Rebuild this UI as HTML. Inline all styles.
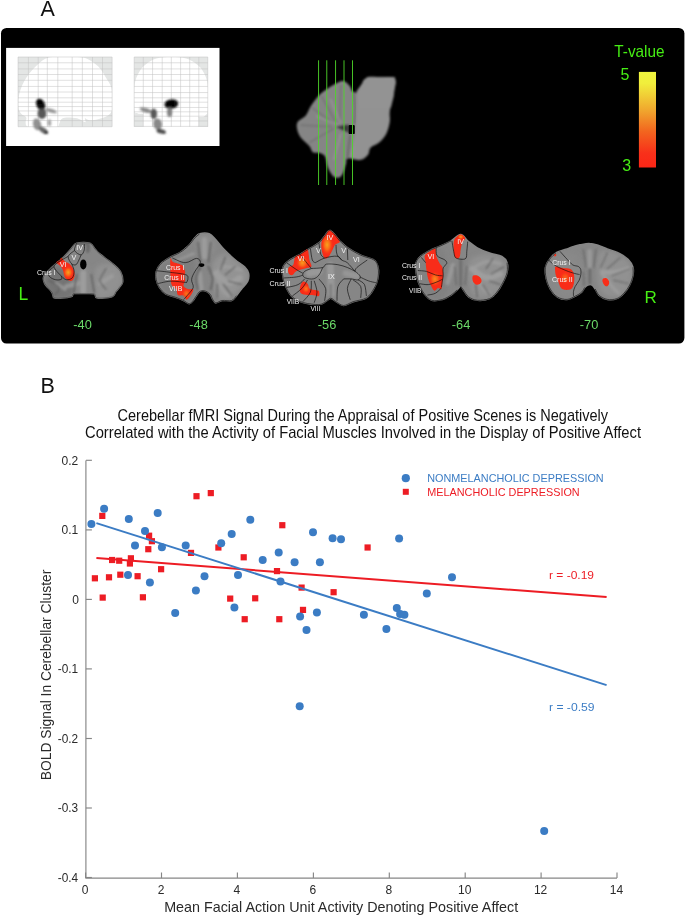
<!DOCTYPE html>
<html lang="en"><head><meta charset="utf-8"><title>Figure</title>
<style>
html,body{margin:0;padding:0;background:#fff;}
body{width:685px;height:916px;overflow:hidden;}
svg{display:block;font-family:"Liberation Sans",Arial,Helvetica,sans-serif;}
</style></head><body>
<svg width="685" height="916" viewBox="0 0 685 916">
<defs>
<linearGradient id="cbar" x1="0" y1="0" x2="0" y2="1">
<stop offset="0" stop-color="#f0f63e"/><stop offset="0.12" stop-color="#f1ee3c"/><stop offset="0.4" stop-color="#f0a72e"/><stop offset="0.62" stop-color="#f2661f"/><stop offset="0.85" stop-color="#f8301a"/><stop offset="1" stop-color="#fb2616"/>
</linearGradient>

<filter id="b04" x="-20%" y="-20%" width="140%" height="140%"><feGaussianBlur stdDeviation="0.4"/></filter>
<filter id="b06" x="-20%" y="-20%" width="140%" height="140%"><feGaussianBlur stdDeviation="0.6"/></filter>
<filter id="b10" x="-20%" y="-20%" width="140%" height="140%"><feGaussianBlur stdDeviation="1.0"/></filter>
<filter id="b05" x="-20%" y="-20%" width="140%" height="140%"><feGaussianBlur stdDeviation="0.5"/></filter>
<filter id="b08" x="-20%" y="-20%" width="140%" height="140%"><feGaussianBlur stdDeviation="0.8"/></filter>
<filter id="b12" x="-20%" y="-20%" width="140%" height="140%"><feGaussianBlur stdDeviation="1.2"/></filter>
<filter id="b2" x="-30%" y="-30%" width="160%" height="160%"><feGaussianBlur stdDeviation="2"/></filter>
<filter id="b3" x="-40%" y="-40%" width="180%" height="180%"><feGaussianBlur stdDeviation="3"/></filter>
<radialGradient id="hot" cx="0.5" cy="0.5" r="0.5"><stop offset="0" stop-color="#f9a21c"/><stop offset="0.45" stop-color="#fb6a18"/><stop offset="1" stop-color="#ff2a12" stop-opacity="0"/></radialGradient>

</defs>
<rect width="685" height="916" fill="#fff"/>
<g id="panelA">
<rect x="1" y="28" width="683.4" height="315.6" rx="5.5" fill="#000"/>
<rect x="6.1" y="47.9" width="213.4" height="98.1" fill="#fff"/>
<rect x="18" y="57" width="94.1" height="69.7" fill="#e4e6e5"/>
<path d="M18.4,106.6 C18.2,103.1 18.3,97.4 19.6,92.6 C20.9,87.7 23.3,82.3 26.3,77.7 C29.3,73.0 34.2,67.8 37.7,64.5 C41.2,61.3 43.6,59.3 47.3,58.0 C50.9,56.8 54.6,57.2 59.6,57.0 C64.5,56.8 72.4,56.7 77.1,57.0 C81.8,57.3 84.1,57.4 87.6,58.9 C91.1,60.5 95.0,63.2 98.1,66.3 C101.2,69.4 103.8,74.2 106.0,77.7 C108.2,81.2 110.2,83.6 111.2,87.3 C112.3,90.9 112.0,95.8 112.1,99.6 C112.3,103.4 112.8,107.4 112.1,110.1 C111.4,112.8 110.1,114.2 107.7,115.7 C105.4,117.2 101.2,118.4 98.1,119.2 C95.0,119.9 91.5,120.4 89.3,120.2 C87.2,120.1 85.6,118.0 85.0,118.3 C84.3,118.7 86.6,122.3 85.3,122.3 C84.0,122.3 80.2,119.1 77.1,118.3 C74.0,117.5 69.2,117.3 66.6,117.4 C63.9,117.6 62.5,118.1 61.3,119.2 C60.1,120.2 59.9,122.5 59.2,123.7 C58.5,125.0 59.8,126.2 56.9,126.7 C54.1,127.3 46.9,127.1 42.0,127.1 C37.2,127.1 30.8,127.5 28.0,126.7 C25.3,125.9 25.9,123.9 25.6,122.3 C25.3,120.8 27.0,118.9 26.3,117.4 C25.5,116.0 22.3,115.4 21.0,113.6 C19.7,111.8 18.6,110.1 18.4,106.6Z" fill="#fff"/>
<path d="M18.04,57 V126.7 M28.38,57 V126.7 M38.19,57 V126.7 M47.30,57 V126.7 M57.81,57 V126.7 M72.18,57 V126.7 M82.34,57 V126.7 M92.50,57 V126.7 M102.48,57 V126.7 M112.12,57 V126.7 M18,56.99 H112.1 M18,62.77 H112.1 M18,68.91 H112.1 M18,74.51 H112.1 M18,80.29 H112.1 M18,86.42 H112.1 M18,92.03 H112.1 M18,97.81 H112.1 M18,102.19 H112.1 M18,106.57 H112.1 M18,110.95 H112.1 M18,115.68 H112.1 M18,120.58 H112.1 M18,126.72 H112.1" stroke="#c0c0c0" stroke-width="0.5" fill="none"/>
<rect x="134.2" y="57" width="73.6" height="69.7" fill="#e4e6e5"/>
<path d="M134.5,110.1 C133.9,105.4 133.8,91.8 134.5,85.5 C135.3,79.3 137.0,76.0 138.9,72.4 C140.8,68.8 143.0,66.5 145.9,64.2 C148.8,61.8 152.2,59.6 156.4,58.4 C160.7,57.2 166.4,57.0 171.3,57.0 C176.3,57.0 182.0,57.2 186.2,58.4 C190.4,59.6 193.8,61.8 196.7,64.2 C199.6,66.5 201.9,68.8 203.7,72.4 C205.6,76.0 207.1,79.3 207.8,85.5 C208.4,91.8 208.1,105.1 207.8,110.1 C207.4,115.0 206.6,114.0 205.5,115.3 C204.4,116.6 202.3,117.7 201.1,118.0 C199.9,118.2 198.9,115.6 198.5,117.1 C198.0,118.5 207.7,125.1 198.5,126.7 C189.3,128.3 152.5,128.7 143.3,126.7 C134.1,124.7 144.2,117.0 143.3,114.8 C142.4,112.6 139.5,114.4 138.0,113.6 C136.6,112.8 135.1,114.7 134.5,110.1Z" fill="#fff"/>
<rect x="134.2" y="115.5" width="9" height="11.2" fill="#e4e6e5"/>
<rect x="198.6" y="117" width="9.2" height="9.7" fill="#e4e6e5"/>
<path d="M134.18,57 V126.7 M143.28,57 V126.7 M152.57,57 V126.7 M162.20,57 V126.7 M171.31,57 V126.7 M180.60,57 V126.7 M189.71,57 V126.7 M198.82,57 V126.7 M207.75,57 V126.7 M134.2,56.99 H207.8 M134.2,62.77 H207.8 M134.2,68.91 H207.8 M134.2,74.51 H207.8 M134.2,80.29 H207.8 M134.2,86.42 H207.8 M134.2,92.55 H207.8 M134.2,97.81 H207.8 M134.2,102.19 H207.8 M134.2,107.45 H207.8 M134.2,111.82 H207.8 M134.2,116.20 H207.8 M134.2,120.93 H207.8 M134.2,126.36 H207.8" stroke="#c0c0c0" stroke-width="0.5" fill="none"/>
<g filter="url(#b08)">
<ellipse cx="40.6" cy="104.5" rx="4.2" ry="6.0" fill="#111" opacity="1" transform="rotate(-28 40.6 104.5)"/>
<ellipse cx="39.6" cy="101.7" rx="2.3" ry="2.8" fill="#000" opacity="1" transform="rotate(-20 39.6 101.7)"/>
<ellipse cx="42.0" cy="113.6" rx="4.4" ry="5.3" fill="#505050" opacity="0.95" transform="rotate(0 42.0 113.6)"/>
<ellipse cx="51.2" cy="110.8" rx="6.0" ry="1.8" fill="#8a8a8a" opacity="0.9" transform="rotate(18 51.2 110.8)"/>
<ellipse cx="37.1" cy="124.4" rx="4.0" ry="6.0" fill="#858585" opacity="0.9" transform="rotate(-15 37.1 124.4)"/>
<ellipse cx="43.4" cy="130.4" rx="5.3" ry="2.6" fill="#606060" opacity="0.95" transform="rotate(35 43.4 130.4)"/>
<ellipse cx="46.1" cy="132.5" rx="2.1" ry="1.6" fill="#2a2a2a" opacity="0.9" transform="rotate(0 46.1 132.5)"/>
<ellipse cx="49.4" cy="122.7" rx="1.8" ry="3.5" fill="#999" opacity="0.9" transform="rotate(0 49.4 122.7)"/>
<ellipse cx="171.3" cy="104.1" rx="7.0" ry="4.7" fill="#161616" opacity="1" transform="rotate(-8 171.3 104.1)"/>
<ellipse cx="170.6" cy="103.4" rx="4.7" ry="3.2" fill="#000" opacity="1" transform="rotate(0 170.6 103.4)"/>
<ellipse cx="169.6" cy="112.2" rx="2.6" ry="4.9" fill="#777" opacity="0.9" transform="rotate(0 169.6 112.2)"/>
<ellipse cx="145.6" cy="110.1" rx="6.0" ry="2.1" fill="#7c7c7c" opacity="0.9" transform="rotate(15 145.6 110.1)"/>
<ellipse cx="153.8" cy="113.8" rx="3.2" ry="5.3" fill="#505050" opacity="0.95" transform="rotate(0 153.8 113.8)"/>
<ellipse cx="157.6" cy="124.1" rx="4.4" ry="5.6" fill="#7c7c7c" opacity="0.9" transform="rotate(-10 157.6 124.1)"/>
<ellipse cx="161.2" cy="131.4" rx="4.9" ry="2.3" fill="#444" opacity="0.95" transform="rotate(15 161.2 131.4)"/>
</g>
<g filter="url(#b08)"><path d="M340.8,81.3 C338.8,82.0 335.5,83.5 332.0,85.7 C328.5,87.8 323.3,91.1 319.8,94.4 C316.3,97.8 313.4,102.3 311.0,105.8 C308.7,109.3 308.0,112.8 305.8,115.4 C303.6,118.1 299.3,119.4 297.9,121.6 C296.4,123.8 296.6,125.9 297.0,128.6 C297.4,131.2 298.5,134.4 300.5,137.3 C302.6,140.3 307.2,143.6 309.3,146.1 C311.3,148.6 311.0,151.1 312.8,152.2 C314.5,153.4 317.7,152.4 319.8,153.1 C321.8,153.8 323.7,154.3 325.0,156.6 C326.4,158.9 326.4,163.9 327.7,167.1 C329.0,170.3 331.0,174.1 332.9,175.9 C334.8,177.6 337.3,178.2 339.1,177.6 C340.8,177.0 342.3,174.7 343.4,172.4 C344.6,170.0 345.3,165.9 346.1,163.6 C346.8,161.3 345.5,158.9 347.8,158.4 C350.1,157.8 356.7,160.7 360.1,160.1 C363.4,159.5 366.2,156.9 368.0,154.9 C369.7,152.8 368.7,149.9 370.6,147.8 C372.5,145.8 376.7,144.9 379.3,142.6 C382.0,140.3 384.6,137.3 386.4,133.8 C388.1,130.3 389.3,125.4 389.9,121.6 C390.4,117.8 389.3,115.4 389.9,111.1 C390.4,106.7 392.5,100.7 393.4,95.3 C394.2,89.9 396.8,81.6 394.8,78.6 C392.7,75.7 385.7,77.6 381.1,77.4 C376.5,77.2 370.3,76.3 367.1,77.4 C363.9,78.5 363.4,81.8 361.8,83.9 C360.2,86.0 358.5,88.6 357.4,90.0 C356.4,91.5 356.6,92.5 355.7,92.7 C354.8,92.8 353.2,92.1 352.2,90.9 C351.2,89.7 350.9,87.3 349.6,85.7 C348.2,84.1 345.8,82.0 344.3,81.3 C342.8,80.5 342.8,80.5 340.8,81.3Z" fill="#858585"/>
<path d="M367.1,78.6 C372.5,77.6 390.0,75.9 394.2,78.6 C398.5,81.4 393.4,89.9 392.5,95.3 C391.6,100.7 389.6,106.5 389.0,111.1 C388.4,115.6 389.6,118.6 389.0,122.4 C388.4,126.2 387.2,130.6 385.5,133.8 C383.7,137.0 381.1,139.5 378.5,141.7 C375.8,143.9 371.6,144.9 369.7,147.0 C367.8,149.0 368.7,152.1 367.1,154.0 C365.5,155.9 362.8,157.8 360.1,158.4 C357.3,158.9 351.6,160.1 350.4,157.5 C349.3,154.9 352.2,147.4 353.1,142.6 C353.9,137.8 355.1,134.4 355.7,128.6 C356.3,122.7 356.3,113.5 356.6,107.6 C356.9,101.6 356.6,96.5 357.4,92.7 C358.3,88.9 360.2,87.1 361.8,84.8 C363.4,82.4 361.7,79.7 367.1,78.6Z" fill="#939393" opacity="0.9"/>
<path d="M367.4,77.4 L394.8,77.4 L394.4,86.5 L393.4,96.2 L390.6,107.6 L360.1,107.6 L357.6,91.4 L362.2,84.1Z" fill="#939393" stroke="#939393" stroke-width="0.6" stroke-linejoin="round"/>
<path d="M311.9,107.6 L333.8,123.3" stroke="#6c6c6c" stroke-width="1.6" opacity="0.7"/>
<path d="M300.5,125.1 L332.0,126.8" stroke="#6c6c6c" stroke-width="1.6" opacity="0.7"/>
<path d="M309.3,142.6 L333.8,128.6" stroke="#6c6c6c" stroke-width="1.6" opacity="0.7"/>
<path d="M321.5,96.2 L335.5,121.6" stroke="#6c6c6c" stroke-width="1.6" opacity="0.7"/>
<path d="M340.8,84.8 L339.9,121.6" stroke="#6c6c6c" stroke-width="1.6" opacity="0.7"/>
<path d="M316.3,116.3 L339.1,125.1" stroke="#9a9a9a" stroke-width="2" opacity="0.7"/>
<path d="M330.3,98.8 L340.8,123.3" stroke="#9a9a9a" stroke-width="2" opacity="0.7"/>
<path d="M333.8,160.1 L340.8,133.8" stroke="#9a9a9a" stroke-width="2" opacity="0.7"/>
</g>
<path d="M349.2,124.7 L349.2,133.0 L342.6,130.0 L335.9,126.8 L342.6,125.4Z" fill="#2e2e2e" opacity=".85" filter="url(#b08)"/>
<path d="M353.4,92.7 C353.7,95.1 355.0,102.3 355.2,107.6 C355.3,112.8 354.6,121.4 354.5,124.2" stroke="#6a6a6a" stroke-width="2.2" fill="none" opacity=".7" filter="url(#b10)"/>
<path d="M350.4,134.7 C350.1,136.6 349.2,142.2 348.7,146.1 C348.2,150.0 347.7,156.3 347.5,158.4" stroke="#5e5e5e" stroke-width="1.8" fill="none" opacity=".7" filter="url(#b10)"/>
<rect x="348.6" y="124.9" width="6.2" height="9.2" rx="1.2" fill="#000" filter="url(#b05)"/>
<rect x="318.15" y="60.3" width="0.9" height="124.7" fill="#4fd62a"/>
<rect x="326.35" y="60.3" width="0.9" height="124.7" fill="#4fd62a"/>
<rect x="335.15" y="60.3" width="0.9" height="124.7" fill="#4fd62a"/>
<rect x="343.55" y="60.3" width="0.9" height="124.7" fill="#4fd62a"/>
<rect x="352.05" y="60.3" width="0.9" height="124.7" fill="#4fd62a"/>
<clipPath id="cp1"><path d="M76.7,243.2 C79.9,242.3 86.8,242.3 89.9,243.2 C92.9,244.2 93.3,247.3 95.0,249.1 C96.7,250.9 97.3,251.9 100.1,254.2 C102.9,256.5 108.3,260.0 111.8,263.0 C115.2,265.9 118.7,268.6 120.5,271.7 C122.3,274.9 122.9,279.3 122.7,281.9 C122.5,284.6 120.1,286.2 119.1,287.8 C118.0,289.4 117.3,289.9 116.1,291.4 C114.9,292.9 114.9,295.7 111.8,296.8 C108.6,297.9 100.1,298.5 97.2,298.0 C94.2,297.5 96.4,294.6 94.2,293.9 C92.0,293.2 87.4,293.7 84.0,293.6 C80.6,293.6 76.0,293.1 73.8,293.6 C71.6,294.1 74.0,296.1 70.9,296.8 C67.7,297.6 58.0,298.8 54.8,298.0 C51.7,297.2 53.6,294.6 51.9,292.2 C50.2,289.7 45.9,286.1 44.6,283.4 C43.3,280.7 42.7,278.8 43.9,276.1 C45.1,273.4 48.6,270.5 51.9,267.3 C55.2,264.2 60.4,260.2 63.6,257.1 C66.7,254.1 68.7,251.4 70.9,249.1 C73.1,246.8 73.6,244.2 76.7,243.2Z"/></clipPath>
<path d="M76.7,243.2 C79.9,242.3 86.8,242.3 89.9,243.2 C92.9,244.2 93.3,247.3 95.0,249.1 C96.7,250.9 97.3,251.9 100.1,254.2 C102.9,256.5 108.3,260.0 111.8,263.0 C115.2,265.9 118.7,268.6 120.5,271.7 C122.3,274.9 122.9,279.3 122.7,281.9 C122.5,284.6 120.1,286.2 119.1,287.8 C118.0,289.4 117.3,289.9 116.1,291.4 C114.9,292.9 114.9,295.7 111.8,296.8 C108.6,297.9 100.1,298.5 97.2,298.0 C94.2,297.5 96.4,294.6 94.2,293.9 C92.0,293.2 87.4,293.7 84.0,293.6 C80.6,293.6 76.0,293.1 73.8,293.6 C71.6,294.1 74.0,296.1 70.9,296.8 C67.7,297.6 58.0,298.8 54.8,298.0 C51.7,297.2 53.6,294.6 51.9,292.2 C50.2,289.7 45.9,286.1 44.6,283.4 C43.3,280.7 42.7,278.8 43.9,276.1 C45.1,273.4 48.6,270.5 51.9,267.3 C55.2,264.2 60.4,260.2 63.6,257.1 C66.7,254.1 68.7,251.4 70.9,249.1 C73.1,246.8 73.6,244.2 76.7,243.2Z" fill="#868686" stroke="#868686" stroke-width="1.5" stroke-linejoin="round" filter="url(#b06)"/>
<g clip-path="url(#cp1)"><g filter="url(#b2)">
<path d="M44.6,283.4 C44.1,278.3 48.7,269.8 51.9,267.3 C55.1,264.9 60.2,266.1 63.6,268.8 C67.0,271.5 71.1,278.8 72.3,283.4 C73.6,288.0 73.8,294.1 70.9,296.5 C68.0,299.0 59.2,300.2 54.8,298.0 C50.4,295.8 45.1,288.5 44.6,283.4Z" fill="#707070" opacity="0.8"/>
<path d="M95.7,268.8 C98.1,263.4 107.6,263.7 111.8,264.4 C115.9,265.1 118.8,270.3 120.5,273.2 C122.2,276.1 123.4,278.3 122.0,281.9 C120.5,285.6 115.9,292.6 111.8,295.1 C107.6,297.5 99.8,300.9 97.2,296.5 C94.5,292.2 93.3,274.1 95.7,268.8Z" fill="#949494" opacity="0.8"/>
<path d="M78.2,268.8 C80.6,264.7 87.4,264.7 89.9,268.8 C92.3,272.9 95.2,289.5 92.8,293.6 C90.3,297.7 77.7,297.7 75.3,293.6 C72.8,289.5 75.7,272.9 78.2,268.8Z" fill="#8c8c8c" opacity="0.7"/>
</g><g filter="url(#b10)">
<path d="M83.3,273.2 L83.3,290.7" stroke="#a0a0a0" stroke-width="5.75" fill="none" opacity="0.9" stroke-linecap="round"/>
<path d="M66.5,286.3 L78.2,283.4" stroke="#a0a0a0" stroke-width="4.60" fill="none" opacity="0.7" stroke-linecap="round"/>
<path d="M100.1,283.4 L111.8,276.1" stroke="#a0a0a0" stroke-width="4.60" fill="none" opacity="0.7" stroke-linecap="round"/>
<path d="M56.3,283.4 L65.0,289.2" stroke="#a0a0a0" stroke-width="3.45" fill="none" opacity="0.7" stroke-linecap="round"/>
<path d="M76.7,274.6 L73.8,292.2" stroke="#5e5e5e" stroke-width="1.92" fill="none" opacity="0.8" stroke-linecap="round"/>
<path d="M91.3,274.6 L94.2,292.2" stroke="#5e5e5e" stroke-width="1.92" fill="none" opacity="0.8" stroke-linecap="round"/>
<path d="M105.9,268.8 C104.9,270.7 100.1,277.1 100.1,280.5 C100.1,283.9 104.9,287.8 105.9,289.2" stroke="#5e5e5e" stroke-width="1.68" fill="none" opacity="0.7" stroke-linecap="round"/>
<path d="M49.0,280.5 C50.7,281.7 58.2,285.3 59.2,287.8 C60.2,290.2 55.5,293.9 54.8,295.1" stroke="#5e5e5e" stroke-width="1.68" fill="none" opacity="0.7" stroke-linecap="round"/>
<path d="M78.2,244.0 C79.8,244.0 86.1,242.8 87.7,244.0 C89.2,245.2 87.7,250.1 87.7,251.3" stroke="#5e5e5e" stroke-width="3.60" fill="none" opacity="0.7" stroke-linecap="round"/>
</g></g>
<ellipse cx="83.3" cy="264.4" rx="3.2" ry="5.0" fill="#050505" filter="url(#b05)"/>
<path d="M56.3,262.2 C56.5,261.5 59.1,260.8 59.9,260.0 C60.8,259.3 60.5,257.6 61.4,257.8 C62.2,258.1 63.6,260.4 65.0,261.5 C66.5,262.6 68.7,263.0 70.1,264.4 C71.6,265.9 73.1,268.3 73.8,270.3 C74.5,272.2 74.8,274.4 74.5,276.1 C74.3,277.8 73.3,279.7 72.3,280.5 C71.4,281.2 69.9,281.0 68.7,280.5 C67.5,280.0 65.9,279.0 65.0,277.6 C64.2,276.1 64.2,273.4 63.6,271.7 C63.0,270.0 62.2,268.6 61.4,267.3 C60.5,266.1 59.3,265.3 58.5,264.4 C57.6,263.6 56.0,263.0 56.3,262.2Z" fill="#fc2a12" filter="url(#b04)" opacity="0.97"/>
<ellipse cx="68.2" cy="272.4" rx="5.5" ry="6.7" fill="url(#hot)" opacity="1.0"/>
<path d="M76.7,243.2 C79.9,242.3 86.8,242.3 89.9,243.2 C92.9,244.2 93.3,247.3 95.0,249.1 C96.7,250.9 97.3,251.9 100.1,254.2 C102.9,256.5 108.3,260.0 111.8,263.0 C115.2,265.9 118.7,268.6 120.5,271.7 C122.3,274.9 122.9,279.3 122.7,281.9 C122.5,284.6 120.1,286.2 119.1,287.8 C118.0,289.4 117.3,289.9 116.1,291.4 C114.9,292.9 114.9,295.7 111.8,296.8 C108.6,297.9 100.1,298.5 97.2,298.0 C94.2,297.5 96.4,294.6 94.2,293.9 C92.0,293.2 87.4,293.7 84.0,293.6 C80.6,293.6 76.0,293.1 73.8,293.6 C71.6,294.1 74.0,296.1 70.9,296.8 C67.7,297.6 58.0,298.8 54.8,298.0 C51.7,297.2 53.6,294.6 51.9,292.2 C50.2,289.7 45.9,286.1 44.6,283.4 C43.3,280.7 42.7,278.8 43.9,276.1 C45.1,273.4 48.6,270.5 51.9,267.3 C55.2,264.2 60.4,260.2 63.6,257.1 C66.7,254.1 68.7,251.4 70.9,249.1 C73.1,246.8 73.6,244.2 76.7,243.2Z" stroke="#0a0a0a" stroke-width="0.7" fill="none" opacity="0.5"/>
<path d="M76.7,243.2 C76.4,244.5 73.8,248.6 74.5,250.5 C75.3,252.5 79.5,255.0 81.1,254.9 C82.7,254.8 83.8,251.6 84.3,249.8 C84.8,248.0 84.3,245.0 84.3,244.0 M74.5,250.5 C73.5,251.5 68.7,254.2 68.2,256.4 C67.8,258.6 70.3,262.3 71.6,263.7 C72.9,265.1 74.8,265.3 76.0,264.7 C77.2,264.1 78.1,261.7 78.9,260.0 C79.8,258.4 80.7,255.8 81.1,254.9 M68.2,256.4 C67.1,257.0 63.7,258.6 61.4,260.3 C59.0,262.0 54.1,264.0 54.1,266.6 C54.1,269.2 59.3,273.9 61.4,276.1 C63.5,278.3 64.7,279.5 66.5,279.7 C68.3,280.0 71.1,279.3 72.3,277.8 C73.6,276.4 74.2,273.3 74.1,271.0 C74.0,268.6 72.0,264.9 71.6,263.7 M54.1,266.6 C53.1,267.5 49.0,270.3 48.2,272.0 C47.5,273.7 48.5,275.5 49.7,276.8 C50.9,278.1 53.6,279.3 55.5,279.7 C57.5,280.2 60.4,279.9 61.4,279.3 C62.4,278.7 61.4,276.6 61.4,276.1" stroke="#0a0a0a" stroke-width="0.7" fill="none" opacity="0.9"/>
<text x="79.6" y="250.1" font-size="7.2" fill="#f2f2f2" text-anchor="middle">IV</text>
<text x="73.8" y="259.7" font-size="7.2" fill="#f2f2f2" text-anchor="middle">V</text>
<text x="63.1" y="267.3" font-size="7.2" fill="#f2f2f2" text-anchor="middle">VI</text>
<text x="37.0" y="275.1" font-size="7.2" fill="#f2f2f2" text-anchor="start" textLength="18.5" lengthAdjust="spacingAndGlyphs">Crus I</text>
<clipPath id="cp2"><path d="M199.6,233.8 C202.0,233.2 206.6,232.9 209.2,233.8 C211.9,234.8 213.2,236.9 215.7,239.5 C218.1,242.0 220.5,245.7 223.7,249.1 C226.9,252.4 231.4,256.6 234.9,259.5 C238.4,262.5 242.3,264.5 244.6,266.8 C246.8,269.0 248.0,270.8 248.6,273.2 C249.1,275.6 249.0,278.5 247.8,281.2 C246.6,283.9 243.2,286.8 241.4,289.2 C239.5,291.6 238.1,293.8 236.5,295.7 C234.9,297.5 234.1,299.7 231.7,300.5 C229.3,301.3 224.8,300.1 222.1,300.5 C219.4,300.9 217.3,303.2 215.7,302.9 C214.1,302.6 213.4,300.3 212.4,298.9 C211.5,297.4 211.4,295.4 210.0,294.1 C208.7,292.7 206.2,291.2 204.4,290.8 C202.7,290.4 200.9,290.8 199.6,291.6 C198.3,292.4 197.5,294.2 196.4,295.7 C195.3,297.1 194.4,299.1 193.2,300.5 C192.0,301.8 190.8,303.7 189.2,303.7 C187.6,303.7 185.8,301.5 183.5,300.5 C181.3,299.4 178.5,298.3 175.5,297.3 C172.6,296.2 168.6,295.7 165.9,294.1 C163.2,292.4 161.1,290.0 159.5,287.6 C157.8,285.2 156.8,282.3 156.2,279.6 C155.7,276.9 155.4,274.2 156.2,271.6 C157.0,268.9 158.9,265.8 161.1,263.5 C163.2,261.3 165.9,259.8 169.1,257.9 C172.3,256.0 177.1,254.3 180.3,252.3 C183.5,250.3 185.9,248.3 188.4,245.9 C190.8,243.5 192.9,239.9 194.8,237.8 C196.7,235.8 197.2,234.5 199.6,233.8Z"/></clipPath>
<path d="M199.6,233.8 C202.0,233.2 206.6,232.9 209.2,233.8 C211.9,234.8 213.2,236.9 215.7,239.5 C218.1,242.0 220.5,245.7 223.7,249.1 C226.9,252.4 231.4,256.6 234.9,259.5 C238.4,262.5 242.3,264.5 244.6,266.8 C246.8,269.0 248.0,270.8 248.6,273.2 C249.1,275.6 249.0,278.5 247.8,281.2 C246.6,283.9 243.2,286.8 241.4,289.2 C239.5,291.6 238.1,293.8 236.5,295.7 C234.9,297.5 234.1,299.7 231.7,300.5 C229.3,301.3 224.8,300.1 222.1,300.5 C219.4,300.9 217.3,303.2 215.7,302.9 C214.1,302.6 213.4,300.3 212.4,298.9 C211.5,297.4 211.4,295.4 210.0,294.1 C208.7,292.7 206.2,291.2 204.4,290.8 C202.7,290.4 200.9,290.8 199.6,291.6 C198.3,292.4 197.5,294.2 196.4,295.7 C195.3,297.1 194.4,299.1 193.2,300.5 C192.0,301.8 190.8,303.7 189.2,303.7 C187.6,303.7 185.8,301.5 183.5,300.5 C181.3,299.4 178.5,298.3 175.5,297.3 C172.6,296.2 168.6,295.7 165.9,294.1 C163.2,292.4 161.1,290.0 159.5,287.6 C157.8,285.2 156.8,282.3 156.2,279.6 C155.7,276.9 155.4,274.2 156.2,271.6 C157.0,268.9 158.9,265.8 161.1,263.5 C163.2,261.3 165.9,259.8 169.1,257.9 C172.3,256.0 177.1,254.3 180.3,252.3 C183.5,250.3 185.9,248.3 188.4,245.9 C190.8,243.5 192.9,239.9 194.8,237.8 C196.7,235.8 197.2,234.5 199.6,233.8Z" fill="#868686" stroke="#868686" stroke-width="1.5" stroke-linejoin="round" filter="url(#b06)"/>
<g clip-path="url(#cp2)"><g filter="url(#b2)">
<path d="M212.4,265.1 C214.1,258.2 220.5,253.6 225.3,253.9 C230.1,254.2 237.6,263.0 241.4,266.8 C245.1,270.5 248.0,272.6 247.8,276.4 C247.5,280.1 243.0,285.5 239.7,289.2 C236.5,293.0 232.5,297.8 228.5,298.9 C224.5,299.9 218.3,301.3 215.7,295.7 C213.0,290.0 210.8,272.1 212.4,265.1Z" fill="#969696" opacity="0.8"/>
<path d="M198.0,236.2 C200.1,234.1 208.2,234.1 210.8,236.2 C213.5,238.4 214.9,245.1 214.1,249.1 C213.2,253.1 208.7,260.3 206.0,260.3 C203.3,260.3 199.3,253.1 198.0,249.1 C196.7,245.1 195.9,238.4 198.0,236.2Z" fill="#909090" opacity="0.7"/>
<path d="M157.8,273.2 C158.6,267.8 163.2,263.0 169.1,260.3 C175.0,257.7 189.2,252.3 193.2,257.1 C197.2,261.9 194.5,282.0 193.2,289.2 C191.8,296.5 190.0,299.9 185.1,300.5 C180.3,301.0 168.8,297.0 164.3,292.4 C159.7,287.9 157.0,278.5 157.8,273.2Z" fill="#7a7a7a" opacity="0.7"/>
</g><g filter="url(#b10)">
<path d="M204.4,239.5 L204.4,257.1" stroke="#a0a0a0" stroke-width="4.60" fill="none" opacity="0.7999999999999999" stroke-linecap="round"/>
<path d="M215.7,273.2 C217.8,274.8 224.5,282.0 228.5,282.8 C232.5,283.6 237.9,278.8 239.7,278.0" stroke="#a0a0a0" stroke-width="5.75" fill="none" opacity="0.9" stroke-linecap="round"/>
<path d="M215.7,273.2 C217.3,272.1 221.0,267.3 225.3,266.8 C229.6,266.2 238.7,269.4 241.4,270.0" stroke="#a0a0a0" stroke-width="3.45" fill="none" opacity="0.7" stroke-linecap="round"/>
<path d="M215.7,273.2 C216.7,275.9 219.9,285.5 222.1,289.2 C224.2,293.0 227.4,294.6 228.5,295.7" stroke="#a0a0a0" stroke-width="3.45" fill="none" opacity="0.7" stroke-linecap="round"/>
<path d="M193.2,253.9 L177.1,260.3" stroke="#a0a0a0" stroke-width="3.45" fill="none" opacity="0.6" stroke-linecap="round"/>
<path d="M199.6,273.2 L201.2,289.2" stroke="#a0a0a0" stroke-width="4.60" fill="none" opacity="0.7" stroke-linecap="round"/>
<path d="M198.0,242.7 L200.4,261.9" stroke="#5e5e5e" stroke-width="1.92" fill="none" opacity="0.8" stroke-linecap="round"/>
<path d="M210.8,242.7 L208.4,261.9" stroke="#5e5e5e" stroke-width="1.92" fill="none" opacity="0.8" stroke-linecap="round"/>
<path d="M200.4,266.8 C199.7,268.6 196.8,274.2 196.4,278.0 C196.0,281.7 197.7,287.4 198.0,289.2" stroke="#5e5e5e" stroke-width="2.16" fill="none" opacity="0.8" stroke-linecap="round"/>
<path d="M208.4,266.8 C209.1,268.6 212.0,274.2 212.4,278.0 C212.8,281.7 211.1,287.4 210.8,289.2" stroke="#5e5e5e" stroke-width="2.16" fill="none" opacity="0.8" stroke-linecap="round"/>
<path d="M225.3,257.1 L220.5,270.0" stroke="#5e5e5e" stroke-width="1.68" fill="none" opacity="0.7" stroke-linecap="round"/>
<path d="M234.9,266.8 L225.3,274.8" stroke="#5e5e5e" stroke-width="1.68" fill="none" opacity="0.7" stroke-linecap="round"/>
<path d="M241.4,284.4 L228.5,281.2" stroke="#5e5e5e" stroke-width="1.68" fill="none" opacity="0.7" stroke-linecap="round"/>
<path d="M231.7,295.7 L223.7,284.4" stroke="#5e5e5e" stroke-width="1.68" fill="none" opacity="0.7" stroke-linecap="round"/>
<path d="M217.3,297.3 L217.3,284.4" stroke="#5e5e5e" stroke-width="1.68" fill="none" opacity="0.7" stroke-linecap="round"/>
</g></g>
<ellipse cx="201.5" cy="265.1" rx="2.9" ry="1.8" fill="#050505" filter="url(#b05)"/>
<path d="M170.7,257.9 C171.2,257.7 171.2,260.7 173.1,261.9 C175.0,263.1 179.9,263.5 181.9,265.1 C183.9,266.8 184.7,269.7 185.1,271.6 C185.5,273.4 184.3,274.9 184.3,276.4 C184.3,277.9 185.3,278.8 185.1,280.4 C185.0,282.0 183.0,284.5 183.5,286.0 C184.1,287.5 186.8,288.7 188.4,289.2 C190.0,289.8 192.6,288.4 193.2,289.2 C193.7,290.0 192.6,292.3 191.6,294.1 C190.5,295.8 188.0,299.4 186.8,299.7 C185.5,299.9 185.8,296.5 184.3,295.7 C182.9,294.9 179.3,295.9 177.9,294.9 C176.6,293.8 177.4,291.0 176.3,289.2 C175.2,287.5 172.5,287.1 171.5,284.4 C170.5,281.7 170.6,276.7 170.4,273.2 C170.2,269.7 170.2,266.1 170.2,263.5 C170.3,261.0 170.2,258.2 170.7,257.9Z" fill="#fc2a12" filter="url(#b04)" opacity="0.97"/>
<ellipse cx="186.4" cy="293.7" rx="4.8" ry="5.5" fill="url(#hot)" opacity="0.6"/>
<path d="M194.8,237.8 C193.7,239.2 190.8,243.5 188.4,245.9 C185.9,248.3 183.5,250.3 180.3,252.3 C177.1,254.3 172.3,256.0 169.1,257.9 C165.9,259.8 163.2,261.3 161.1,263.5 C158.9,265.8 157.0,268.9 156.2,271.6 C155.4,274.2 155.7,276.9 156.2,279.6 C156.8,282.3 157.8,285.2 159.5,287.6 C161.1,290.0 163.2,292.4 165.9,294.1 C168.6,295.7 172.6,296.2 175.5,297.3 C178.5,298.3 181.3,299.4 183.5,300.5 C185.8,301.5 187.6,303.7 189.2,303.7 C190.8,303.7 192.0,301.8 193.2,300.5 C194.4,299.1 195.3,297.1 196.4,295.7 C197.5,294.2 198.3,292.4 199.6,291.6 C200.9,290.8 202.7,290.4 204.4,290.8 C206.2,291.2 208.7,292.7 210.0,294.1 C211.4,295.4 211.5,297.4 212.4,298.9 C213.4,300.3 214.1,302.6 215.7,302.9 C217.3,303.2 219.4,300.9 222.1,300.5 C224.8,300.1 229.3,301.3 231.7,300.5 C234.1,299.7 235.7,296.5 236.5,295.7 M194.8,237.8 L199.6,233.8 M172.3,257.9 C174.4,258.7 181.1,262.7 185.1,262.7 C189.2,262.8 193.8,258.4 196.4,258.4 C198.9,258.4 200.7,260.5 200.4,262.7 C200.1,264.9 196.3,268.8 194.8,271.6 C193.3,274.4 191.8,276.9 191.6,279.6 C191.3,282.3 193.9,285.0 193.2,287.6 C192.4,290.3 188.7,293.6 187.1,295.7 C185.5,297.7 184.1,299.0 183.5,299.7 M157.0,270.8 C159.3,271.0 165.9,271.7 170.7,272.4 C175.5,273.0 183.1,273.7 185.9,274.8 C188.8,275.9 187.8,277.5 187.9,278.8 C188.0,280.1 186.7,282.1 186.4,282.8 M157.8,283.6 C160.0,283.2 165.9,281.4 170.7,281.2 C175.5,281.0 183.8,282.3 186.4,282.5" stroke="#0a0a0a" stroke-width="0.7" fill="none" opacity="0.9"/>
<text x="165.9" y="270.0" font-size="7.2" fill="#f2f2f2" text-anchor="start" textLength="18.5" lengthAdjust="spacingAndGlyphs">Crus I</text>
<text x="164.3" y="280.4" font-size="7.2" fill="#f2f2f2" text-anchor="start" textLength="20.1" lengthAdjust="spacingAndGlyphs">Crus II</text>
<text x="169.1" y="291.2" font-size="7.2" fill="#f2f2f2" text-anchor="start" textLength="13.2" lengthAdjust="spacingAndGlyphs">VIIB</text>
<clipPath id="cp3"><path d="M330.3,230.5 C332.9,231.3 337.0,238.1 339.8,241.0 C342.7,243.8 343.9,245.2 347.4,247.6 C350.9,250.0 356.3,253.2 360.7,255.2 C365.1,257.3 371.1,257.9 374.0,260.0 C376.9,262.0 377.5,264.4 378.1,267.5 C378.8,270.7 378.5,275.5 377.8,278.9 C377.1,282.4 375.9,285.3 374.0,288.4 C372.1,291.6 369.9,295.7 366.4,297.9 C362.9,300.1 356.9,300.4 353.1,301.7 C349.3,303.0 346.5,305.5 343.6,305.5 C340.8,305.5 338.2,302.9 336.0,301.7 C333.9,300.5 332.4,298.3 330.7,298.3 C329.0,298.3 327.5,300.7 325.6,301.7 C323.6,302.8 322.6,304.4 318.9,304.6 C315.3,304.7 308.2,303.9 303.8,302.7 C299.3,301.4 295.4,299.7 292.4,297.0 C289.4,294.3 287.3,289.8 285.7,286.5 C284.1,283.2 283.4,280.2 282.9,277.0 C282.4,273.9 281.9,270.2 282.9,267.5 C283.8,264.9 285.7,263.1 288.6,260.9 C291.4,258.7 296.5,256.3 300.0,254.3 C303.4,252.2 306.3,250.5 309.4,248.6 C312.6,246.7 316.4,244.9 318.9,242.9 C321.5,240.8 322.7,238.3 324.6,236.2 C326.5,234.2 327.8,229.7 330.3,230.5Z"/></clipPath>
<path d="M330.3,230.5 C332.9,231.3 337.0,238.1 339.8,241.0 C342.7,243.8 343.9,245.2 347.4,247.6 C350.9,250.0 356.3,253.2 360.7,255.2 C365.1,257.3 371.1,257.9 374.0,260.0 C376.9,262.0 377.5,264.4 378.1,267.5 C378.8,270.7 378.5,275.5 377.8,278.9 C377.1,282.4 375.9,285.3 374.0,288.4 C372.1,291.6 369.9,295.7 366.4,297.9 C362.9,300.1 356.9,300.4 353.1,301.7 C349.3,303.0 346.5,305.5 343.6,305.5 C340.8,305.5 338.2,302.9 336.0,301.7 C333.9,300.5 332.4,298.3 330.7,298.3 C329.0,298.3 327.5,300.7 325.6,301.7 C323.6,302.8 322.6,304.4 318.9,304.6 C315.3,304.7 308.2,303.9 303.8,302.7 C299.3,301.4 295.4,299.7 292.4,297.0 C289.4,294.3 287.3,289.8 285.7,286.5 C284.1,283.2 283.4,280.2 282.9,277.0 C282.4,273.9 281.9,270.2 282.9,267.5 C283.8,264.9 285.7,263.1 288.6,260.9 C291.4,258.7 296.5,256.3 300.0,254.3 C303.4,252.2 306.3,250.5 309.4,248.6 C312.6,246.7 316.4,244.9 318.9,242.9 C321.5,240.8 322.7,238.3 324.6,236.2 C326.5,234.2 327.8,229.7 330.3,230.5Z" fill="#868686" stroke="#868686" stroke-width="1.5" stroke-linejoin="round" filter="url(#b06)"/>
<g clip-path="url(#cp3)"><g filter="url(#b2)">
</g><g filter="url(#b10)">
<path d="M330.3,265.6 L331.3,294.1" stroke="#a0a0a0" stroke-width="6.90" fill="none" opacity="0.7" stroke-linecap="round"/>
<path d="M309.4,273.2 L318.9,271.3" stroke="#a0a0a0" stroke-width="6.90" fill="none" opacity="0.7" stroke-linecap="round"/>
<path d="M345.5,273.2 L356.9,276.1" stroke="#a0a0a0" stroke-width="5.75" fill="none" opacity="0.6" stroke-linecap="round"/>
<path d="M330.7,284.6 L330.7,297.9" stroke="#5e5e5e" stroke-width="1.80" fill="none" opacity="0.7" stroke-linecap="round"/>
</g></g>
<path d="M330.3,230.5 C332.7,231.5 339.0,238.6 339.8,241.0 C340.6,243.4 336.3,243.2 335.1,244.8 C333.8,246.4 333.3,248.4 332.2,250.5 C331.1,252.5 329.7,255.8 328.4,257.1 C327.2,258.4 325.7,259.2 324.6,258.1 C323.5,257.0 322.3,253.3 321.8,250.5 C321.3,247.6 321.1,243.5 321.8,241.0 C322.4,238.4 324.2,237.0 325.6,235.3 C327.0,233.5 327.9,229.6 330.3,230.5Z" fill="#fc2a12" filter="url(#b04)" opacity="0.97"/>
<path d="M307.5,249.5 C308.8,250.6 308.8,257.1 309.4,260.0 C310.1,262.8 312.1,265.2 311.3,266.6 C310.6,268.0 307.2,267.7 304.7,268.5 C302.2,269.3 298.2,270.2 296.2,271.3 C294.1,272.5 293.6,274.8 292.4,275.1 C291.1,275.5 289.2,274.5 288.6,273.2 C287.9,272.0 287.8,269.0 288.6,267.5 C289.4,266.1 292.2,266.4 293.3,264.7 C294.4,263.0 293.8,259.0 295.2,257.1 C296.6,255.2 299.8,254.6 301.9,253.3 C303.9,252.0 306.3,248.4 307.5,249.5Z" fill="#fc2a12" filter="url(#b04)" opacity="0.97"/>
<path d="M302.8,281.8 C304.1,281.1 306.4,282.6 307.5,283.7 C308.7,284.8 308.0,287.3 309.4,288.4 C310.9,289.5 314.5,289.8 316.1,290.3 C317.7,290.8 318.5,290.3 318.9,291.3 C319.4,292.2 320.0,295.4 318.9,296.0 C317.8,296.6 314.2,295.2 312.3,295.1 C310.4,294.9 309.4,295.4 307.5,295.1 C305.6,294.7 302.2,294.4 300.9,293.2 C299.6,291.9 299.6,289.4 300.0,287.5 C300.3,285.6 301.5,282.4 302.8,281.8Z" fill="#fc2a12" filter="url(#b04)" opacity="0.97"/>
<ellipse cx="327.1" cy="244.8" rx="6.3" ry="11.0" fill="url(#hot)" opacity="1.0"/>
<ellipse cx="302.4" cy="262.8" rx="6.8" ry="7.2" fill="url(#hot)" opacity="0.95"/>
<ellipse cx="306.0" cy="288.8" rx="4.2" ry="4.9" fill="url(#hot)" opacity="0.65"/>
<path d="M324.6,236.2 C323.7,237.3 321.5,240.8 318.9,242.9 C316.4,244.9 312.6,246.7 309.4,248.6 C306.3,250.5 303.4,252.2 300.0,254.3 C296.5,256.3 291.4,258.7 288.6,260.9 C285.7,263.1 283.8,264.9 282.9,267.5 C281.9,270.2 282.4,273.9 282.9,277.0 C283.4,280.2 284.1,283.2 285.7,286.5 C287.3,289.8 289.4,294.3 292.4,297.0 C295.4,299.7 299.3,301.4 303.8,302.7 C308.2,303.9 315.3,304.7 318.9,304.6 C322.6,304.4 323.6,302.8 325.6,301.7 C327.5,300.7 329.0,298.3 330.7,298.3 C332.4,298.3 333.9,300.5 336.0,301.7 C338.2,302.9 340.8,305.5 343.6,305.5 C346.5,305.5 349.3,303.0 353.1,301.7 C356.9,300.4 362.9,300.1 366.4,297.9 C369.9,295.7 372.1,291.6 374.0,288.4 C375.9,285.3 377.1,282.4 377.8,278.9 C378.5,275.5 378.8,270.7 378.1,267.5 C377.5,264.4 376.9,262.0 374.0,260.0 C371.1,257.9 365.1,257.3 360.7,255.2 C356.3,253.2 350.9,250.0 347.4,247.6 C343.9,245.2 342.7,243.8 339.8,241.0 C337.0,238.1 332.9,231.3 330.3,230.5 C327.8,229.7 325.6,235.3 324.6,236.2 M311.3,268.5 C313.2,268.3 320.2,268.3 322.7,267.5 C325.3,266.8 324.0,264.6 326.5,264.1 C329.1,263.7 334.4,264.1 337.9,264.7 C341.4,265.3 344.6,266.4 347.4,267.5 C350.2,268.7 352.9,269.9 355.0,271.3 C357.1,272.8 359.6,274.7 360.1,276.1 C360.7,277.5 359.7,279.4 358.2,279.9 C356.7,280.4 353.6,279.1 351.2,278.9 C348.8,278.8 344.9,278.9 343.6,278.9 M322.7,267.5 C322.1,268.8 320.5,273.2 318.9,275.1 C317.4,277.0 315.5,278.5 313.2,278.9 C311.0,279.4 307.4,278.6 305.6,278.0 C303.9,277.4 303.0,276.2 302.8,275.1 C302.6,274.0 303.3,272.5 304.7,271.3 C306.1,270.2 310.2,269.0 311.3,268.5 M310.4,248.6 C310.7,250.5 311.5,257.6 312.3,260.0 C313.1,262.3 314.7,262.3 315.1,262.8 M318.9,242.9 C319.3,244.8 319.9,251.7 320.8,254.3 C321.8,256.8 324.0,257.4 324.6,258.1 M336.0,244.8 C336.2,246.4 336.0,251.7 337.0,254.3 C337.9,256.8 340.0,258.5 341.7,260.0 C343.4,261.4 345.2,260.9 347.4,262.8 C349.6,264.7 353.7,269.9 355.0,271.3 M347.4,248.6 L347.8,260.0 M367.3,260.0 C365.6,261.2 358.9,265.6 356.9,267.5 C354.8,269.4 355.3,270.7 355.0,271.3 M283.8,278.0 C285.9,277.8 293.0,277.5 296.2,277.0 C299.3,276.6 301.7,275.5 302.8,275.1 M286.7,287.5 C288.6,287.0 295.1,286.1 298.1,284.6 C301.1,283.2 303.6,279.9 304.7,278.9 M292.4,296.0 C293.9,294.7 299.3,291.1 301.9,288.4 C304.4,285.7 306.6,281.3 307.5,279.9 M302.8,301.7 C304.1,300.1 309.0,295.7 310.4,292.2 C311.8,288.7 311.2,282.7 311.3,280.8 M314.2,302.7 C314.7,300.9 317.0,295.9 317.0,292.2 C317.0,288.6 314.7,282.7 314.2,280.8 M324.6,300.8 C324.8,298.7 326.5,292.1 325.6,288.4 C324.6,284.8 320.0,280.5 318.9,278.9 M337.0,300.8 C337.1,298.4 336.8,290.2 337.9,286.5 C339.0,282.9 342.7,280.2 343.6,278.9 M350.2,299.8 C349.8,297.9 347.2,291.9 347.4,288.4 C347.6,284.9 350.6,280.5 351.2,278.9 M360.7,297.9 C360.7,296.0 362.0,289.5 360.7,286.5 C359.4,283.5 354.4,281.0 353.1,279.9 M366.4,296.0 C366.1,294.1 365.8,287.3 364.5,284.6 C363.1,281.9 359.3,280.7 358.2,279.9 M375.9,282.7 C374.6,282.4 370.9,281.8 368.3,280.8 C365.7,279.9 361.5,277.7 360.1,277.0 M286.7,262.8 C288.3,263.9 293.5,267.7 296.2,269.4 C298.8,271.2 301.7,272.6 302.8,273.2 M300.0,254.3 C301.2,255.8 305.6,261.4 307.5,263.8 C309.4,266.1 310.7,267.7 311.3,268.5 M315.1,262.8 C316.7,262.0 321.0,259.2 324.6,258.1 C328.3,257.0 334.1,255.8 337.0,256.2 C339.8,256.5 340.9,259.3 341.7,260.0" stroke="#0a0a0a" stroke-width="0.7" fill="none" opacity="0.9"/>
<text x="329.8" y="240.0" font-size="7.2" fill="#f2f2f2" text-anchor="middle">IV</text>
<text x="318.4" y="252.7" font-size="7.2" fill="#f2f2f2" text-anchor="middle">V</text>
<text x="343.6" y="252.7" font-size="7.2" fill="#f2f2f2" text-anchor="middle">V</text>
<text x="300.9" y="261.3" font-size="7.2" fill="#f2f2f2" text-anchor="middle">VI</text>
<text x="356.3" y="261.5" font-size="7.2" fill="#f2f2f2" text-anchor="middle">VI</text>
<text x="331.3" y="278.9" font-size="7.2" fill="#f2f2f2" text-anchor="middle">IX</text>
<text x="269.6" y="272.9" font-size="7.2" fill="#f2f2f2" text-anchor="start" textLength="18.4" lengthAdjust="spacingAndGlyphs">Crus I</text>
<text x="269.6" y="285.6" font-size="7.2" fill="#f2f2f2" text-anchor="start" textLength="20.9" lengthAdjust="spacingAndGlyphs">Crus II</text>
<text x="286.7" y="303.6" font-size="7.2" fill="#f2f2f2" text-anchor="start" textLength="12.5" lengthAdjust="spacingAndGlyphs">VIIB</text>
<text x="310.4" y="311.2" font-size="7.2" fill="#f2f2f2" text-anchor="start" textLength="9.9" lengthAdjust="spacingAndGlyphs">VIII</text>
<clipPath id="cp4"><path d="M460.7,234.6 C463.6,234.8 465.8,239.5 468.6,241.6 C471.4,243.8 473.8,245.9 477.3,247.8 C480.8,249.7 485.5,251.6 489.6,253.0 C493.7,254.5 498.9,254.9 501.9,256.5 C504.8,258.1 506.2,260.0 507.1,262.7 C508.0,265.3 507.8,268.9 507.1,272.3 C506.4,275.7 504.5,279.5 502.7,282.8 C501.0,286.2 498.8,289.8 496.6,292.4 C494.4,295.1 492.8,297.3 489.6,298.6 C486.4,299.9 480.8,300.6 477.3,300.3 C473.8,300.0 470.9,298.6 468.6,296.8 C466.2,295.1 464.6,291.6 463.3,289.8 C462.0,288.1 461.7,286.3 460.7,286.3 C459.7,286.3 458.8,288.4 457.2,289.8 C455.6,291.3 453.5,293.5 451.1,295.1 C448.6,296.7 445.5,298.6 442.3,299.5 C439.1,300.3 434.9,301.4 431.8,300.3 C428.7,299.3 426.1,296.2 423.9,293.3 C421.7,290.4 420.0,286.3 418.6,282.8 C417.3,279.3 416.5,275.7 416.0,272.3 C415.6,268.9 415.1,265.4 416.0,262.7 C416.9,259.9 418.6,257.8 421.3,255.7 C423.9,253.5 428.3,251.3 431.8,249.5 C435.3,247.8 439.1,246.6 442.3,245.1 C445.5,243.7 448.0,242.5 451.1,240.8 C454.1,239.0 457.8,234.5 460.7,234.6Z"/></clipPath>
<path d="M460.7,234.6 C463.6,234.8 465.8,239.5 468.6,241.6 C471.4,243.8 473.8,245.9 477.3,247.8 C480.8,249.7 485.5,251.6 489.6,253.0 C493.7,254.5 498.9,254.9 501.9,256.5 C504.8,258.1 506.2,260.0 507.1,262.7 C508.0,265.3 507.8,268.9 507.1,272.3 C506.4,275.7 504.5,279.5 502.7,282.8 C501.0,286.2 498.8,289.8 496.6,292.4 C494.4,295.1 492.8,297.3 489.6,298.6 C486.4,299.9 480.8,300.6 477.3,300.3 C473.8,300.0 470.9,298.6 468.6,296.8 C466.2,295.1 464.6,291.6 463.3,289.8 C462.0,288.1 461.7,286.3 460.7,286.3 C459.7,286.3 458.8,288.4 457.2,289.8 C455.6,291.3 453.5,293.5 451.1,295.1 C448.6,296.7 445.5,298.6 442.3,299.5 C439.1,300.3 434.9,301.4 431.8,300.3 C428.7,299.3 426.1,296.2 423.9,293.3 C421.7,290.4 420.0,286.3 418.6,282.8 C417.3,279.3 416.5,275.7 416.0,272.3 C415.6,268.9 415.1,265.4 416.0,262.7 C416.9,259.9 418.6,257.8 421.3,255.7 C423.9,253.5 428.3,251.3 431.8,249.5 C435.3,247.8 439.1,246.6 442.3,245.1 C445.5,243.7 448.0,242.5 451.1,240.8 C454.1,239.0 457.8,234.5 460.7,234.6Z" fill="#868686" stroke="#868686" stroke-width="1.5" stroke-linejoin="round" filter="url(#b06)"/>
<g clip-path="url(#cp4)"><g filter="url(#b2)">
<path d="M470.3,260.0 C473.8,255.7 483.8,254.2 489.6,254.8 C495.4,255.4 503.0,259.2 505.4,263.5 C507.7,267.9 505.7,275.8 503.6,281.1 C501.6,286.3 497.8,292.4 493.1,295.1 C488.4,297.7 479.7,299.2 475.6,296.8 C471.5,294.5 469.5,287.2 468.6,281.1 C467.7,274.9 466.8,264.4 470.3,260.0Z" fill="#949494" opacity="0.8"/>
<path d="M419.5,260.0 C423.3,254.5 435.9,246.3 440.5,247.8 C445.2,249.2 446.7,260.9 447.6,268.8 C448.4,276.7 448.7,290.1 445.8,295.1 C442.9,300.0 434.7,300.9 430.0,298.6 C425.4,296.2 419.5,287.5 417.8,281.1 C416.0,274.6 415.7,265.6 419.5,260.0Z" fill="#7e7e7e" opacity="0.6"/>
</g><g filter="url(#b10)">
<path d="M472.1,268.8 C474.4,270.3 481.4,276.7 486.1,277.6 C490.8,278.4 497.8,274.6 500.1,274.1" stroke="#a0a0a0" stroke-width="5.75" fill="none" opacity="0.9" stroke-linecap="round"/>
<path d="M472.1,268.8 C474.4,267.6 481.4,262.7 486.1,261.8 C490.8,260.9 497.8,263.2 500.1,263.5" stroke="#a0a0a0" stroke-width="3.45" fill="none" opacity="0.7" stroke-linecap="round"/>
<path d="M473.8,270.5 C475.3,273.5 480.0,284.3 482.6,288.1 C485.2,291.9 488.4,292.4 489.6,293.3" stroke="#a0a0a0" stroke-width="3.45" fill="none" opacity="0.7" stroke-linecap="round"/>
<path d="M452.8,265.3 L447.6,282.8" stroke="#a0a0a0" stroke-width="4.60" fill="none" opacity="0.7" stroke-linecap="round"/>
<path d="M460.7,260.0 L460.7,285.4" stroke="#5e5e5e" stroke-width="2.40" fill="none" opacity="0.7" stroke-linecap="round"/>
<path d="M454.6,267.0 L456.3,284.6" stroke="#5e5e5e" stroke-width="1.80" fill="none" opacity="0.6" stroke-linecap="round"/>
<path d="M466.8,267.0 L465.1,284.6" stroke="#5e5e5e" stroke-width="1.80" fill="none" opacity="0.6" stroke-linecap="round"/>
<path d="M493.1,258.3 L486.1,268.8" stroke="#5e5e5e" stroke-width="1.56" fill="none" opacity="0.7" stroke-linecap="round"/>
<path d="M503.6,267.0 L491.4,274.1" stroke="#5e5e5e" stroke-width="1.56" fill="none" opacity="0.7" stroke-linecap="round"/>
<path d="M500.1,284.6 L489.6,281.1" stroke="#5e5e5e" stroke-width="1.56" fill="none" opacity="0.7" stroke-linecap="round"/>
<path d="M489.6,295.1 L482.6,284.6" stroke="#5e5e5e" stroke-width="1.56" fill="none" opacity="0.7" stroke-linecap="round"/>
<path d="M477.3,296.8 L475.6,284.6" stroke="#5e5e5e" stroke-width="1.56" fill="none" opacity="0.7" stroke-linecap="round"/>
</g></g>
<path d="M460.7,234.6 C462.3,234.6 464.8,236.8 465.1,238.1 C465.4,239.5 463.2,240.6 462.4,242.5 C461.7,244.4 461.1,247.2 460.7,249.5 C460.3,251.9 460.4,255.0 459.8,256.5 C459.2,258.1 458.1,258.6 457.2,258.6 C456.3,258.6 455.1,258.1 454.6,256.5 C454.0,255.0 453.8,251.9 453.7,249.5 C453.5,247.2 453.4,244.4 453.7,242.5 C454.0,240.6 454.3,239.5 455.4,238.1 C456.6,236.8 459.1,234.6 460.7,234.6Z" fill="#fc2a12" filter="url(#b04)" opacity="0.97"/>
<path d="M435.3,248.6 C436.3,249.4 435.4,253.2 436.2,255.7 C436.9,258.1 438.6,261.6 439.7,263.5 C440.7,265.4 441.7,265.0 442.3,267.0 C442.9,269.1 443.2,273.2 443.2,275.8 C443.2,278.4 442.6,280.6 442.3,282.8 C442.0,285.0 442.2,288.1 441.4,288.9 C440.7,289.8 439.1,287.8 437.9,288.1 C436.8,288.4 435.6,291.1 434.4,290.7 C433.2,290.3 431.9,287.3 430.9,285.4 C429.9,283.5 429.0,281.8 428.3,279.3 C427.6,276.8 427.0,273.3 426.5,270.5 C426.1,267.8 425.9,265.1 425.7,262.7 C425.4,260.2 424.1,257.6 424.8,255.7 C425.5,253.8 428.3,252.4 430.0,251.3 C431.8,250.1 434.3,247.9 435.3,248.6Z" fill="#fc2a12" filter="url(#b04)" opacity="0.97"/>
<path d="M473.0,275.8 C473.7,275.0 476.0,275.0 477.3,275.5 C478.6,275.9 480.2,277.4 480.8,278.4 C481.5,279.5 481.8,280.9 481.4,281.9 C480.9,283.0 479.3,284.3 478.2,284.6 C477.1,284.9 475.6,284.4 474.7,283.7 C473.8,283.0 472.9,281.5 472.6,280.2 C472.3,278.9 472.2,276.6 473.0,275.8Z" fill="#fc2a12" filter="url(#b04)" opacity="0.97"/>
<ellipse cx="460.7" cy="236.9" rx="3.5" ry="2.8" fill="url(#hot)" opacity="0.95"/>
<ellipse cx="434.9" cy="279.0" rx="6.3" ry="8.1" fill="url(#hot)" opacity="0.8"/>
<path d="M451.1,240.8 C449.6,241.5 445.5,243.7 442.3,245.1 C439.1,246.6 435.3,247.8 431.8,249.5 C428.3,251.3 423.9,253.5 421.3,255.7 C418.6,257.8 416.9,259.9 416.0,262.7 C415.1,265.4 415.6,268.9 416.0,272.3 C416.5,275.7 417.3,279.3 418.6,282.8 C420.0,286.3 421.7,290.4 423.9,293.3 C426.1,296.2 428.7,299.3 431.8,300.3 C434.9,301.4 439.1,300.3 442.3,299.5 C445.5,298.6 448.6,296.7 451.1,295.1 C453.5,293.5 456.2,290.7 457.2,289.8 M451.9,240.8 C452.2,242.5 453.1,248.5 453.7,251.3 C454.3,254.1 454.3,256.1 455.4,257.4 C456.6,258.7 458.9,259.0 460.7,259.2 C462.4,259.3 464.9,259.6 465.9,258.3 C467.0,257.0 466.5,254.1 466.8,251.3 C467.1,248.5 467.6,243.2 467.7,241.6 M436.2,247.8 C436.3,249.1 435.6,253.6 437.0,255.7 C438.5,257.7 443.3,258.7 444.9,260.0 C446.5,261.4 447.0,262.2 446.7,263.5 C446.4,264.9 443.8,265.9 443.2,267.9 C442.6,270.0 443.3,273.6 443.2,275.8 C443.0,278.0 442.6,279.2 442.3,281.1 C442.0,283.0 441.6,286.2 441.4,287.2 M421.3,257.4 L425.7,262.7 M417.8,270.5 C419.2,270.7 423.6,270.7 426.5,271.4 C429.5,272.2 432.6,274.2 435.3,274.9 C438.0,275.7 441.4,275.7 442.6,275.8 M419.5,283.7 C421.0,283.8 425.4,284.9 428.3,284.6 C431.2,284.3 434.7,282.8 437.0,281.9 C439.4,281.1 441.4,279.7 442.3,279.3 M427.4,295.1 C428.7,294.8 433.0,294.5 435.3,293.3 C437.6,292.2 440.4,288.9 441.4,288.1 M460.7,286.3 C461.1,286.9 462.0,288.1 463.3,289.8 C464.6,291.6 466.2,295.1 468.6,296.8 C470.9,298.6 473.8,300.0 477.3,300.3 C480.8,300.6 486.4,299.9 489.6,298.6 C492.8,297.3 494.4,295.1 496.6,292.4 C498.8,289.8 501.0,286.2 502.7,282.8 C504.5,279.5 506.4,275.7 507.1,272.3 C507.8,268.9 507.1,264.3 507.1,262.7" stroke="#0a0a0a" stroke-width="0.7" fill="none" opacity="0.9"/>
<text x="460.7" y="243.9" font-size="7.2" fill="#f2f2f2" text-anchor="middle">IV</text>
<text x="430.9" y="259.2" font-size="7.2" fill="#f2f2f2" text-anchor="middle">VI</text>
<text x="402.0" y="267.6" font-size="7.2" fill="#f2f2f2" text-anchor="start" textLength="18.4" lengthAdjust="spacingAndGlyphs">Crus I</text>
<text x="402.0" y="279.8" font-size="7.2" fill="#f2f2f2" text-anchor="start" textLength="20.1" lengthAdjust="spacingAndGlyphs">Crus II</text>
<text x="409.0" y="292.8" font-size="7.2" fill="#f2f2f2" text-anchor="start" textLength="12.3" lengthAdjust="spacingAndGlyphs">VIIB</text>
<clipPath id="cp5"><path d="M580.0,244.8 C582.6,244.4 586.4,243.4 589.6,243.6 C592.8,243.7 596.3,244.8 599.2,245.6 C602.2,246.5 604.1,247.7 607.3,248.9 C610.5,250.1 615.0,251.1 618.5,252.9 C622.0,254.6 625.7,256.9 628.1,259.3 C630.5,261.7 632.2,264.7 633.0,267.3 C633.8,270.0 633.5,272.4 633.0,275.4 C632.4,278.3 631.2,282.0 629.7,285.0 C628.3,287.9 626.3,290.7 624.1,293.0 C622.0,295.3 619.7,297.6 616.9,298.6 C614.1,299.7 610.2,300.0 607.3,299.4 C604.3,298.9 601.2,297.2 599.2,295.4 C597.2,293.7 596.4,290.7 595.2,289.0 C594.0,287.3 593.2,285.7 592.0,285.0 C590.8,284.3 589.2,284.6 588.0,285.0 C586.8,285.4 585.9,286.2 584.8,287.4 C583.7,288.6 583.2,290.7 581.6,292.2 C580.0,293.7 577.6,295.0 575.1,296.2 C572.7,297.4 570.1,299.3 567.1,299.4 C564.2,299.6 560.3,298.8 557.5,297.0 C554.7,295.3 552.1,292.1 550.3,289.0 C548.4,285.9 547.0,282.2 546.2,278.6 C545.4,275.0 544.9,270.5 545.4,267.3 C546.0,264.1 547.7,261.7 549.5,259.3 C551.2,256.9 552.9,254.6 555.9,252.9 C558.8,251.1 564.2,249.9 567.1,248.9 C570.1,247.8 571.4,247.1 573.5,246.5 C575.7,245.8 577.3,245.3 580.0,244.8Z"/></clipPath>
<path d="M580.0,244.8 C582.6,244.4 586.4,243.4 589.6,243.6 C592.8,243.7 596.3,244.8 599.2,245.6 C602.2,246.5 604.1,247.7 607.3,248.9 C610.5,250.1 615.0,251.1 618.5,252.9 C622.0,254.6 625.7,256.9 628.1,259.3 C630.5,261.7 632.2,264.7 633.0,267.3 C633.8,270.0 633.5,272.4 633.0,275.4 C632.4,278.3 631.2,282.0 629.7,285.0 C628.3,287.9 626.3,290.7 624.1,293.0 C622.0,295.3 619.7,297.6 616.9,298.6 C614.1,299.7 610.2,300.0 607.3,299.4 C604.3,298.9 601.2,297.2 599.2,295.4 C597.2,293.7 596.4,290.7 595.2,289.0 C594.0,287.3 593.2,285.7 592.0,285.0 C590.8,284.3 589.2,284.6 588.0,285.0 C586.8,285.4 585.9,286.2 584.8,287.4 C583.7,288.6 583.2,290.7 581.6,292.2 C580.0,293.7 577.6,295.0 575.1,296.2 C572.7,297.4 570.1,299.3 567.1,299.4 C564.2,299.6 560.3,298.8 557.5,297.0 C554.7,295.3 552.1,292.1 550.3,289.0 C548.4,285.9 547.0,282.2 546.2,278.6 C545.4,275.0 544.9,270.5 545.4,267.3 C546.0,264.1 547.7,261.7 549.5,259.3 C551.2,256.9 552.9,254.6 555.9,252.9 C558.8,251.1 564.2,249.9 567.1,248.9 C570.1,247.8 571.4,247.1 573.5,246.5 C575.7,245.8 577.3,245.3 580.0,244.8Z" fill="#868686" stroke="#868686" stroke-width="1.5" stroke-linejoin="round" filter="url(#b06)"/>
<g clip-path="url(#cp5)"><g filter="url(#b2)">
<path d="M599.2,252.9 C602.7,248.6 613.2,252.1 618.5,254.5 C623.9,256.9 629.5,262.5 631.4,267.3 C633.2,272.1 631.9,278.6 629.7,283.4 C627.6,288.2 622.8,294.4 618.5,296.2 C614.2,298.1 607.5,297.3 604.1,294.6 C600.6,292.0 598.4,287.1 597.6,280.2 C596.8,273.2 595.8,257.2 599.2,252.9Z" fill="#949494" opacity="0.8"/>
<path d="M549.5,264.1 C551.9,258.0 561.5,251.3 567.1,251.3 C572.7,251.3 580.8,258.0 583.2,264.1 C585.6,270.3 584.2,282.6 581.6,288.2 C578.9,293.8 571.9,297.8 567.1,297.8 C562.3,297.8 555.6,293.8 552.7,288.2 C549.7,282.6 547.0,270.3 549.5,264.1Z" fill="#8a8a8a" opacity="0.6"/>
</g><g filter="url(#b10)">
<path d="M602.4,272.1 C604.6,272.1 611.0,272.7 615.3,272.1 C619.6,271.6 626.0,269.5 628.1,268.9" stroke="#a0a0a0" stroke-width="4.60" fill="none" opacity="0.7999999999999999" stroke-linecap="round"/>
<path d="M602.4,273.8 C604.1,275.9 609.4,283.4 612.1,286.6 C614.8,289.8 617.4,292.0 618.5,293.0" stroke="#a0a0a0" stroke-width="3.45" fill="none" opacity="0.7" stroke-linecap="round"/>
<path d="M589.6,251.3 L589.6,267.3" stroke="#a0a0a0" stroke-width="4.60" fill="none" opacity="0.7" stroke-linecap="round"/>
<path d="M589.9,268.9 L589.9,283.4" stroke="#5e5e5e" stroke-width="2.40" fill="none" opacity="0.7" stroke-linecap="round"/>
<path d="M583.2,249.7 L586.4,267.3" stroke="#5e5e5e" stroke-width="1.68" fill="none" opacity="0.6" stroke-linecap="round"/>
<path d="M596.0,249.7 L593.6,267.3" stroke="#5e5e5e" stroke-width="1.68" fill="none" opacity="0.6" stroke-linecap="round"/>
<path d="M607.3,252.9 L600.8,267.3" stroke="#5e5e5e" stroke-width="1.56" fill="none" opacity="0.6" stroke-linecap="round"/>
<path d="M620.1,257.7 L607.3,268.9" stroke="#5e5e5e" stroke-width="1.56" fill="none" opacity="0.6" stroke-linecap="round"/>
<path d="M629.7,268.9 L612.1,275.4" stroke="#5e5e5e" stroke-width="1.56" fill="none" opacity="0.6" stroke-linecap="round"/>
<path d="M628.1,283.4 L613.7,280.2" stroke="#5e5e5e" stroke-width="1.56" fill="none" opacity="0.6" stroke-linecap="round"/>
<path d="M583.2,272.1 L584.0,285.0" stroke="#5e5e5e" stroke-width="1.80" fill="none" opacity="0.6" stroke-linecap="round"/>
</g></g>
<path d="M555.9,266.5 C557.2,266.3 560.7,267.7 563.1,268.1 C565.5,268.5 568.6,268.1 570.3,268.9 C572.1,269.7 572.9,271.3 573.5,272.9 C574.2,274.6 574.3,276.6 574.3,278.6 C574.3,280.6 574.1,283.3 573.5,285.0 C573.0,286.7 572.6,288.2 571.1,289.0 C569.7,289.8 566.4,290.1 564.7,289.8 C563.0,289.5 561.8,288.7 560.7,287.4 C559.6,286.1 559.1,283.8 558.3,281.8 C557.5,279.8 556.4,277.4 555.9,275.4 C555.3,273.4 555.1,271.2 555.1,269.7 C555.1,268.3 554.5,266.8 555.9,266.5Z" fill="#fc2a12" filter="url(#b04)" opacity="0.97"/>
<path d="M603.2,278.6 C603.9,278.1 605.5,277.8 606.5,278.2 C607.4,278.6 608.5,280.0 608.9,281.0 C609.3,282.0 609.3,283.3 608.9,284.2 C608.5,285.1 607.3,286.3 606.5,286.3 C605.6,286.3 604.4,285.1 603.7,284.2 C603.1,283.3 602.5,281.9 602.4,281.0 C602.4,280.0 602.6,279.0 603.2,278.6Z" fill="#fc2a12" filter="url(#b04)" opacity="0.97"/>
<path d="M554.3,254.5 C554.5,254.1 555.6,253.8 555.9,254.0 C556.2,254.2 556.4,255.4 556.2,255.8 C556.0,256.2 554.9,256.6 554.6,256.4 C554.3,256.2 554.1,254.9 554.3,254.5Z" fill="#fc2a12" filter="url(#b04)" opacity="0.97"/>
<ellipse cx="565.2" cy="277.8" rx="5.5" ry="6.7" fill="url(#hot)" opacity="0.5"/>
<path d="M555.9,252.9 C554.8,253.9 551.2,256.9 549.5,259.3 C547.7,261.7 546.0,264.1 545.4,267.3 C544.9,270.5 545.4,275.0 546.2,278.6 C547.0,282.2 548.4,285.9 550.3,289.0 C552.1,292.1 554.7,295.3 557.5,297.0 C560.3,298.8 564.2,299.6 567.1,299.4 C570.1,299.3 572.7,297.4 575.1,296.2 C577.6,295.0 580.0,293.7 581.6,292.2 C583.2,290.7 584.2,288.2 584.8,287.4 M595.2,289.0 C595.9,290.1 597.2,293.7 599.2,295.4 C601.2,297.2 604.3,298.9 607.3,299.4 C610.2,300.0 614.1,299.7 616.9,298.6 C619.7,297.6 622.0,295.3 624.1,293.0 C626.3,290.7 628.3,287.9 629.7,285.0 C631.2,282.0 632.4,278.3 633.0,275.4 C633.5,272.4 633.0,268.7 633.0,267.3 M559.9,251.3 C561.1,252.6 565.0,257.0 567.1,259.3 C569.3,261.6 570.9,263.7 572.7,264.9 C574.6,266.1 577.0,265.7 578.4,266.5 C579.7,267.3 580.4,268.4 580.8,269.7 C581.2,271.1 581.0,272.8 580.8,274.6 C580.5,276.3 580.1,278.2 579.2,280.2 C578.2,282.2 576.1,284.7 575.1,286.6 C574.2,288.5 573.8,289.8 573.5,291.4 C573.3,293.0 573.5,295.4 573.5,296.2 M547.8,259.3 C548.9,260.2 551.6,263.2 554.3,264.9 C556.9,266.7 560.8,268.4 563.9,269.7 C567.0,271.1 570.1,272.1 572.7,272.9 C575.4,273.8 578.5,274.3 579.6,274.6" stroke="#0a0a0a" stroke-width="0.7" fill="none" opacity="0.9"/>
<text x="552.3" y="264.9" font-size="7.2" fill="#f2f2f2" text-anchor="start" textLength="18.3" lengthAdjust="spacingAndGlyphs">Crus I</text>
<text x="551.9" y="282.3" font-size="7.2" fill="#f2f2f2" text-anchor="start" textLength="20.9" lengthAdjust="spacingAndGlyphs">Crus II</text>
<rect x="638.9" y="71.9" width="17.1" height="95.6" fill="url(#cbar)"/>
<text x="614.3" y="57" font-size="16.6" fill="#46ee14" text-anchor="start" textLength="50.2" lengthAdjust="spacingAndGlyphs">T-value</text>
<text x="620.6" y="79.5" font-size="16" fill="#46ee14" text-anchor="start">5</text>
<text x="622.3" y="171" font-size="16" fill="#46ee14" text-anchor="start">3</text>
<text x="18.6" y="300" font-size="17.5" fill="#46ee14" text-anchor="start">L</text>
<text x="644.6" y="303.4" font-size="17" fill="#46ee14" text-anchor="start">R</text>
<text x="82.5" y="329.2" font-size="12.8" fill="#6bd968" text-anchor="middle">-40</text>
<text x="198.5" y="329.2" font-size="12.8" fill="#6bd968" text-anchor="middle">-48</text>
<text x="327" y="329.2" font-size="12.8" fill="#6bd968" text-anchor="middle">-56</text>
<text x="461" y="329.2" font-size="12.8" fill="#6bd968" text-anchor="middle">-64</text>
<text x="589" y="329.2" font-size="12.8" fill="#6bd968" text-anchor="middle">-70</text>
</g>
<g id="chartB">
<path d="M85.9,460.4 V878.1 H617.0" fill="none" stroke="#868686" stroke-width="1.15"/>
<path d="M85.9,460.3 h6" stroke="#868686" stroke-width="1.15"/>
<text x="78.2" y="464.7" font-size="12" fill="#2a2a2a" text-anchor="end">0.2</text>
<path d="M85.9,529.9 h6" stroke="#868686" stroke-width="1.15"/>
<text x="78.2" y="534.3" font-size="12" fill="#2a2a2a" text-anchor="end">0.1</text>
<path d="M85.9,599.4 h6" stroke="#868686" stroke-width="1.15"/>
<text x="79" y="603.8" font-size="12" fill="#2a2a2a" text-anchor="end">0</text>
<path d="M85.9,668.9 h6" stroke="#868686" stroke-width="1.15"/>
<text x="78.2" y="673.3" font-size="12" fill="#2a2a2a" text-anchor="end" textLength="20.4" lengthAdjust="spacingAndGlyphs">-0.1</text>
<path d="M85.9,738.5 h6" stroke="#868686" stroke-width="1.15"/>
<text x="78.2" y="742.9" font-size="12" fill="#2a2a2a" text-anchor="end" textLength="20.4" lengthAdjust="spacingAndGlyphs">-0.2</text>
<path d="M85.9,808.0 h6" stroke="#868686" stroke-width="1.15"/>
<text x="78.2" y="812.4" font-size="12" fill="#2a2a2a" text-anchor="end" textLength="20.4" lengthAdjust="spacingAndGlyphs">-0.3</text>
<path d="M85.9,877.5 h6" stroke="#868686" stroke-width="1.15"/>
<text x="78.2" y="881.9" font-size="12" fill="#2a2a2a" text-anchor="end" textLength="20.4" lengthAdjust="spacingAndGlyphs">-0.4</text>
<path d="M85.6,878.1 v-5.6" stroke="#868686" stroke-width="1.15"/>
<text x="85.1" y="894.2" font-size="12" fill="#2a2a2a" text-anchor="middle">0</text>
<path d="M161.5,878.1 v-5.6" stroke="#868686" stroke-width="1.15"/>
<text x="161.0" y="894.2" font-size="12" fill="#2a2a2a" text-anchor="middle">2</text>
<path d="M237.4,878.1 v-5.6" stroke="#868686" stroke-width="1.15"/>
<text x="236.9" y="894.2" font-size="12" fill="#2a2a2a" text-anchor="middle">4</text>
<path d="M313.4,878.1 v-5.6" stroke="#868686" stroke-width="1.15"/>
<text x="312.9" y="894.2" font-size="12" fill="#2a2a2a" text-anchor="middle">6</text>
<path d="M389.3,878.1 v-5.6" stroke="#868686" stroke-width="1.15"/>
<text x="388.8" y="894.2" font-size="12" fill="#2a2a2a" text-anchor="middle">8</text>
<path d="M465.2,878.1 v-5.6" stroke="#868686" stroke-width="1.15"/>
<text x="464.7" y="894.2" font-size="12" fill="#2a2a2a" text-anchor="middle">10</text>
<path d="M541.1,878.1 v-5.6" stroke="#868686" stroke-width="1.15"/>
<text x="540.6" y="894.2" font-size="12" fill="#2a2a2a" text-anchor="middle">12</text>
<path d="M617.0,878.1 v-5.6" stroke="#868686" stroke-width="1.15"/>
<text x="616.5" y="894.2" font-size="12" fill="#2a2a2a" text-anchor="middle">14</text>
<g fill="#ed1c24"><rect x="99.2" y="512.8" width="6.2" height="6.2"/><rect x="193.4" y="493.1" width="6.2" height="6.2"/><rect x="207.7" y="490.0" width="6.2" height="6.2"/><rect x="146.0" y="532.6" width="6.2" height="6.2"/><rect x="148.8" y="538.1" width="6.2" height="6.2"/><rect x="145.2" y="546.1" width="6.2" height="6.2"/><rect x="187.9" y="549.8" width="6.2" height="6.2"/><rect x="215.3" y="544.4" width="6.2" height="6.2"/><rect x="127.8" y="555.2" width="6.2" height="6.2"/><rect x="126.8" y="560.4" width="6.2" height="6.2"/><rect x="109.0" y="556.9" width="6.2" height="6.2"/><rect x="116.1" y="557.6" width="6.2" height="6.2"/><rect x="158.0" y="566.1" width="6.2" height="6.2"/><rect x="91.8" y="575.2" width="6.2" height="6.2"/><rect x="105.9" y="574.2" width="6.2" height="6.2"/><rect x="117.2" y="571.6" width="6.2" height="6.2"/><rect x="134.5" y="573.1" width="6.2" height="6.2"/><rect x="99.6" y="594.5" width="6.2" height="6.2"/><rect x="139.8" y="594.2" width="6.2" height="6.2"/><rect x="279.2" y="522.1" width="6.2" height="6.2"/><rect x="240.6" y="554.2" width="6.2" height="6.2"/><rect x="273.9" y="568.0" width="6.2" height="6.2"/><rect x="298.5" y="584.5" width="6.2" height="6.2"/><rect x="330.5" y="589.1" width="6.2" height="6.2"/><rect x="227.1" y="595.5" width="6.2" height="6.2"/><rect x="252.1" y="595.2" width="6.2" height="6.2"/><rect x="299.9" y="606.8" width="6.2" height="6.2"/><rect x="241.6" y="616.1" width="6.2" height="6.2"/><rect x="276.2" y="616.1" width="6.2" height="6.2"/><rect x="364.5" y="544.4" width="6.2" height="6.2"/></g>
<path d="M96.4,558.1 L606.6,597.1" stroke="#ed1c24" stroke-width="2.0" fill="none"/>
<path d="M96.4,523.1 L606.6,685.1" stroke="#3b7cc4" stroke-width="2.0" fill="none"/>
<g fill="#3b7cc4"><circle cx="91.4" cy="524.1" r="4"/><circle cx="104.1" cy="508.8" r="4"/><circle cx="128.8" cy="519.0" r="4"/><circle cx="157.7" cy="513.1" r="4"/><circle cx="145.0" cy="530.9" r="4"/><circle cx="135.0" cy="545.4" r="4"/><circle cx="161.9" cy="547.2" r="4"/><circle cx="185.7" cy="545.6" r="4"/><circle cx="128.0" cy="575.0" r="4"/><circle cx="149.9" cy="582.4" r="4"/><circle cx="204.5" cy="576.3" r="4"/><circle cx="195.9" cy="590.6" r="4"/><circle cx="175.2" cy="612.9" r="4"/><circle cx="221.2" cy="543.2" r="4"/><circle cx="231.7" cy="534.0" r="4"/><circle cx="250.3" cy="519.7" r="4"/><circle cx="313.0" cy="532.3" r="4"/><circle cx="332.6" cy="538.3" r="4"/><circle cx="341.0" cy="539.3" r="4"/><circle cx="278.7" cy="552.6" r="4"/><circle cx="262.7" cy="560.1" r="4"/><circle cx="294.6" cy="562.2" r="4"/><circle cx="319.9" cy="562.2" r="4"/><circle cx="238.0" cy="575.0" r="4"/><circle cx="280.5" cy="581.4" r="4"/><circle cx="234.4" cy="607.4" r="4"/><circle cx="316.9" cy="612.5" r="4"/><circle cx="300.1" cy="616.6" r="4"/><circle cx="306.5" cy="630.0" r="4"/><circle cx="299.7" cy="706.3" r="4"/><circle cx="399.1" cy="538.5" r="4"/><circle cx="452.0" cy="577.3" r="4"/><circle cx="426.8" cy="593.4" r="4"/><circle cx="396.8" cy="608.0" r="4"/><circle cx="400.1" cy="614.1" r="4"/><circle cx="404.4" cy="614.8" r="4"/><circle cx="363.9" cy="614.8" r="4"/><circle cx="386.4" cy="629.1" r="4"/><circle cx="544.2" cy="830.9" r="4"/></g>
<circle cx="405.8" cy="478.2" r="4.1" fill="#3b7cc4"/>
<rect x="402.8" y="488.8" width="6" height="6" fill="#ed1c24"/>
<text x="427.2" y="482.1" font-size="11" fill="#3b7cc4" text-anchor="start" textLength="176.5" lengthAdjust="spacingAndGlyphs">NONMELANCHOLIC DEPRESSION</text>
<text x="427.2" y="496.0" font-size="11" fill="#ed1c24" text-anchor="start" textLength="152.5" lengthAdjust="spacingAndGlyphs">MELANCHOLIC DEPRESSION</text>
<text x="549" y="578.6" font-size="11.5" fill="#ed1c24" text-anchor="start" textLength="45" lengthAdjust="spacingAndGlyphs">r = -0.19</text>
<text x="549" y="711.2" font-size="11.5" fill="#3b7cc4" text-anchor="start" textLength="45.5" lengthAdjust="spacingAndGlyphs">r = -0.59</text>
<text x="362.8" y="421.2" font-size="15.7" fill="#111" text-anchor="middle" textLength="490.5" lengthAdjust="spacingAndGlyphs">Cerebellar fMRI Signal During the Appraisal of Positive Scenes is Negatively</text>
<text x="363" y="437.5" font-size="15.7" fill="#111" text-anchor="middle" textLength="556" lengthAdjust="spacingAndGlyphs">Correlated with the Activity of Facial Muscles Involved in the Display of Positive Affect</text>
<text x="164.2" y="911.9" font-size="14.2" fill="#2a2a2a" text-anchor="start" textLength="354" lengthAdjust="spacingAndGlyphs">Mean Facial Action Unit Activity Denoting Positive Affect</text>
<text transform="translate(50.5,780.2) rotate(-90)" font-size="14" fill="#2a2a2a" textLength="210.5" lengthAdjust="spacingAndGlyphs">BOLD Signal In Cerebellar Cluster</text>
<text x="40.5" y="392.5" font-size="21.5" fill="#111" text-anchor="start">B</text>
<text x="40.4" y="16" font-size="21.5" fill="#111" text-anchor="start">A</text>
</g>
</svg>
</body></html>
